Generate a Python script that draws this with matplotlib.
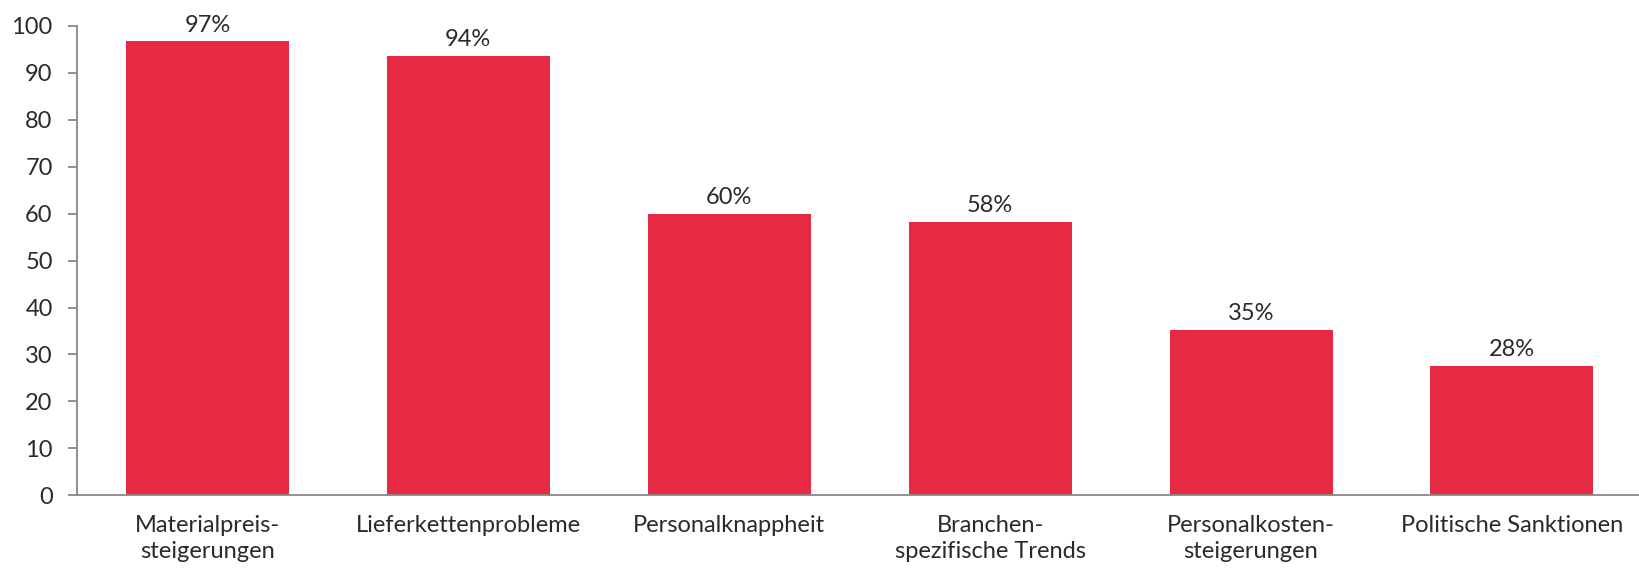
import matplotlib
matplotlib.use("Agg")
import matplotlib.pyplot as plt

categories = ["Materialpreis-\nsteigerungen", "Lieferkettenprobleme", "Personalknappheit",
              "Branchen-\nspezifische Trends", "Personalkosten-\nsteigerungen", "Politische Sanktionen"]
values = [96.7, 93.6, 59.9, 58.2, 35.3, 27.5]
labels = ["97%", "94%", "60%", "58%", "35%", "28%"]
yticks = [0, 10, 20, 30, 40, 50, 60, 70, 80, 90, 100]

plt.rcParams['font.family'] = ['Lato', 'DejaVu Sans']

fig = plt.figure(figsize=(16.39, 5.72), dpi=100)
ax = fig.add_axes([0.047, 0.134, 0.953, 0.821])
x = list(range(len(categories)))
ax.bar(x, values, width=0.625, color="#E62A43")
for xi, v, l in zip(x, values, labels):
    ax.annotate(l, (xi, v), xytext=(0, 7), textcoords="offset points",
                ha="center", va="baseline", fontsize=17, color="#2a2a2a")

ax.set_xlim(-0.5, 5.487)
ax.set_ylim(0, 100)
ax.set_yticks(yticks)
ax.set_yticklabels([str(t) for t in yticks], fontsize=17, color="#2a2a2a")
ax.set_xticks(x)
ax.set_xticklabels(categories, fontsize=17, color="#2a2a2a", linespacing=1.32)
ax.tick_params(axis="x", length=0, pad=14)
ax.tick_params(axis="y", length=6.5, width=1.3, color="#888888", pad=11, direction="out")
for s in ["top", "right"]:
    ax.spines[s].set_visible(False)
for s in ["left", "bottom"]:
    ax.spines[s].set_color("#888888")
    ax.spines[s].set_linewidth(1.3)

fig.savefig("out.png", dpi=100)
